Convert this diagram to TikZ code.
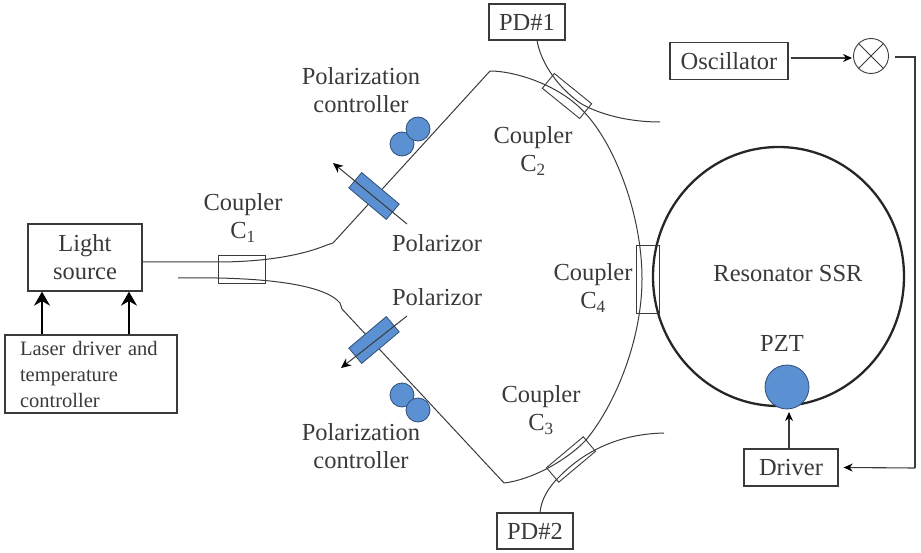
\documentclass[tikz,border=0pt]{standalone}
\usepackage{fontspec}
\setmainfont{Liberation Serif}
\usetikzlibrary{arrows.meta,positioning,calc,shapes.geometric}
\definecolor{inkgray}{HTML}{3A3A3A}
\definecolor{partblue}{HTML}{5B90D2}
\definecolor{partedge}{HTML}{2F4F78}

\begin{document}
\begin{tikzpicture}[>=Stealth,x=1pt,y=-1pt,color=inkgray,text=inkgray,
 font=\fontsize{24.5}{28}\selectfont,
 box/.style={draw,line width=1.3pt,align=center,inner sep=0pt},
 coupler/.style={draw,line width=0.9pt,inner sep=0pt,minimum width=48pt,minimum height=19pt},
 pola/.style={draw=partedge,fill=partblue,line width=0.8pt,inner sep=0pt,minimum width=49pt,minimum height=20pt},
 roller/.style={draw=partedge,fill=partblue,line width=0.8pt,circle,inner sep=0pt,minimum size=24pt},
 lab/.style={align=center,inner sep=0pt},
 fibre/.style={line width=1pt},
 wire/.style={line width=1.1pt,-{Stealth[length=9pt,width=8pt,color=black]}},
 bigwire/.style={line width=1.5pt,color=black,-{Stealth[length=14pt,width=16pt]}}]
\useasboundingbox (0,0) rectangle (921,553);
\node[box,minimum width=114pt,minimum height=67pt] (source) at (85,257.5) {Light\\source};
\node[box,minimum width=172pt,minimum height=78pt,font=\fontsize{20.5}{26}\selectfont,align=left,text width=142pt] (laser) at (91,374) {Laser driver and\\temperature\\controller};
\node[box,minimum width=76pt,minimum height=36pt] (pd1) at (527,22) {PD\#1};
\node[box,minimum width=76pt,minimum height=36pt] (pd2) at (535,531) {PD\#2};
\node[box,minimum width=118pt,minimum height=37pt] (osc) at (729,61) {Oscillator};
\node[box,minimum width=94pt,minimum height=37pt] (driver) at (791,467.5) {Driver};
\node[draw,circle,line width=0.9pt,minimum size=35pt,inner sep=0pt] (mixer) at (871,56) {};
\draw[line width=0.9pt] (mixer.north west) -- (mixer.south east) (mixer.north east) -- (mixer.south west);
\node[draw,ellipse,line width=2.3pt,color=black!85,minimum width=251pt,minimum height=259pt,inner sep=0pt] (ssr) at (778.5,276.5) {};
\node[roller,minimum size=44pt] (pzt) at (787,387) {};
\node[coupler,minimum width=47pt,minimum height=28pt] (c1) at (241.5,269) {};
\node[coupler,rotate=-39] (c2) at (567,96) {};
\node[coupler,rotate=40] (c3) at (571,459.5) {};
\node[coupler,minimum width=23pt,minimum height=68pt] (c4) at (647.5,279) {};
\coordinate (s1) at (142,262);
\coordinate (k1) at (327,245);
\coordinate (k2) at (333,243);
\coordinate (top) at (490,71);
\coordinate (b0) at (178,278);
\coordinate (k3) at (340,303);
\coordinate (k4) at (342,309);
\coordinate (bot) at (504,483);
\coordinate (e1) at (660,122);
\coordinate (e2) at (664,433);
\coordinate (p1) at (537,40);
\coordinate (p2) at (540,513);
\coordinate (mid) at (642,279);
\coordinate (a1) at (333,163);
\coordinate (a2) at (407,224);
\coordinate (a3) at (341,368);
\coordinate (a4) at (407,316);
\coordinate (w0) at (852,58);
\coordinate (w1) at (915,57);
\coordinate (w2) at (915,468);
\draw[fibre] (s1) -- (217,262) .. controls (262,262) and (300,256) .. (k1) -- (k2) -- (top);
\draw[fibre] (b0) -- (217,278) .. controls (270,279) and (325,285) .. (k3) -- (k4) -- (bot);
\draw[fibre] (top) .. controls (515,71) and (560,85) .. (585,113) .. controls (615,145) and (642,215) .. (mid) .. controls (642,340) and (615,405) .. (586,440) .. controls (565,462) and (530,480) .. (bot);
\draw[fibre] (p1) .. controls (540,60) and (555,85) .. (580,103) .. controls (600,115) and (630,122) .. (e1);
\draw[fibre] (p2) .. controls (541,500) and (548,488) .. (558,478) .. controls (585,450) and (620,434) .. (e2);
\node[pola,rotate=-40] (pol1) at (374,196) {};
\node[pola,rotate=40] (pol2) at (374,340) {};
\node[roller] (pc1a) at (402,144) {};
\node[roller] (pc1b) at (418,129) {};
\node[roller] (pc2a) at (402,395) {};
\node[roller] (pc2b) at (418,410) {};
\draw[fibre,-{Stealth[length=10pt,width=9pt,color=black]}] (a2) -- (a1);
\draw[fibre,-{Stealth[length=10pt,width=9pt,color=black]}] (a4) -- (a3);
\draw[bigwire] (laser.north -| 42,0) -- (source.south -| 42,0);
\draw[bigwire] (laser.north -| 129,0) -- (source.south -| 129,0);
\draw[wire] (osc.east |- w0) ++(2,0) -- (w0);
\draw[line width=1.1pt] (895,57) -- (w1) -- (w2);
\draw[wire] (w2) -- ($(driver.east)+(5,0)$);
\draw[wire] (driver.north -| 789,0) -- (789,412);
\node[lab] (lc1) at (243,218) {Coupler\\C\textsubscript{1}};
\node[lab] (lpc1) at (361,90) {Polarization\\controller};
\node[lab] (lpol1) at (437,243) {Polarizor};
\node[lab] (lc2) at (533,151) {Coupler\\C\textsubscript{2}};
\node[lab] (lc4) at (593,288) {Coupler\\C\textsubscript{4}};
\node[lab] (lpol2) at (437,297) {Polarizor};
\node[lab] (lpc2) at (361,446) {Polarization\\controller};
\node[lab] (lc3) at (541,410) {Coupler\\C\textsubscript{3}};
\node[lab] (lssr) at (788,274) {Resonator SSR};
\node[lab] (lpzt) at (782,343) {PZT};
\end{tikzpicture}
\end{document}
